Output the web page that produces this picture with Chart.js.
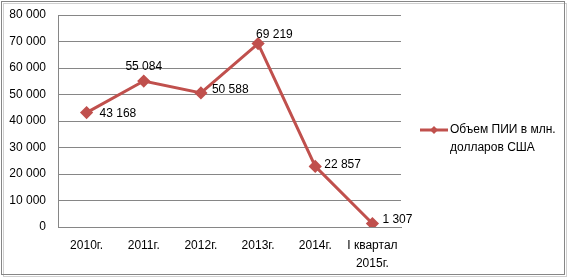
<!DOCTYPE html>
<html><head><meta charset="utf-8">
<script src="https://cdn.jsdelivr.net/npm/chart.js@4/dist/chart.umd.min.js"></script>
<style>html,body{margin:0;padding:0;background:#fff;}#wrap{width:571px;height:278px;position:relative;}</style>
</head><body><div id="wrap"><canvas id="c" width="571" height="278"></canvas></div>
<script>
const categories = [["2010г."], ["2011г."], ["2012г."], ["2013г."], ["2014г."], ["I квартал", "2015г."]];
const values = [43168, 55084, 50588, 69219, 22857, 1307];
const seriesName = ["Объем ПИИ в млн.", "долларов США"];
const yTicks = [0, 10000, 20000, 30000, 40000, 50000, 60000, 70000, 80000];
// label placement (dx, dy, align) relative to each point
const labelPlacement = [[13, 1, 'left'], [0, -14, 'center'], [11, -3, 'left'], [-2, -9, 'left'], [9, -2, 'left'], [10, -4, 'left']];

const fmt = v => String(v).replace(/\B(?=(\d{3})+(?!\d))/g, ' ');
const FONT = '"Liberation Sans", Arial, sans-serif';
const RED = '#C0504D';

const framePlugin = {
  id: 'frame',
  beforeDraw(chart) {
    const ctx = chart.ctx;
    ctx.save();
    ctx.fillStyle = '#fff';
    ctx.fillRect(0, 0, 571, 278);
    ctx.strokeStyle = '#d0d0d0';
    ctx.lineWidth = 1;
    ctx.strokeRect(3.5, 3.5, 563, 273);
    ctx.strokeStyle = '#868686';
    ctx.strokeRect(1.5, 1.5, 563, 273);
    ctx.restore();
  }
};

const labelPlugin = {
  id: 'pointLabels',
  afterDatasetsDraw(chart) {
    const ctx = chart.ctx;
    const meta = chart.getDatasetMeta(0);
    ctx.save();
    ctx.font = '12px ' + FONT;
    ctx.fillStyle = '#000';
    ctx.textBaseline = 'middle';
    meta.data.forEach((pt, i) => {
      const [dx, dy, al] = labelPlacement[i];
      ctx.textAlign = al;
      ctx.fillText(fmt(values[i]), pt.x + dx, pt.y + dy);
    });
    ctx.restore();
  }
};

const legendPlugin = {
  id: 'customLegend',
  afterDraw(chart) {
    const ctx = chart.ctx;
    ctx.save();
    const x0 = 420, y0 = 130;
    ctx.strokeStyle = RED;
    ctx.lineWidth = 3;
    ctx.beginPath();
    ctx.moveTo(x0, y0);
    ctx.lineTo(x0 + 28, y0);
    ctx.stroke();
    ctx.fillStyle = RED;
    ctx.beginPath();
    const cx = x0 + 14, r = 4;
    ctx.moveTo(cx, y0 - r); ctx.lineTo(cx + r, y0); ctx.lineTo(cx, y0 + r); ctx.lineTo(cx - r, y0); ctx.closePath();
    ctx.fill();
    ctx.fillStyle = '#000';
    ctx.font = '12px ' + FONT;
    ctx.textAlign = 'left';
    ctx.textBaseline = 'middle';
    seriesName.forEach((t, i) => ctx.fillText(t, 450, y0 + i * 18));
    ctx.restore();
  }
};

new Chart(document.getElementById('c'), {
  type: 'line',
  data: {
    labels: categories,
    datasets: [{
      label: seriesName.join(' '),
      data: values,
      borderColor: RED,
      backgroundColor: RED,
      borderWidth: 3,
      pointStyle: 'rectRot',
      pointRadius: 4.5,
      pointHoverRadius: 4.5,
      pointBackgroundColor: RED,
      pointBorderColor: RED,
      tension: 0
    }]
  },
  options: {
    responsive: false,
    animation: false,
    devicePixelRatio: 1,
    layout: { padding: { left: 0, right: 170, top: 15, bottom: 0 } },
    plugins: { legend: { display: false }, tooltip: { enabled: false } },
    scales: {
      x: {
        offset: true,
        grid: { display: false, drawTicks: false },
        border: { display: true, color: '#868686', width: 1 },
        ticks: { color: '#000', font: { family: FONT, size: 12, lineHeight: 1.55 }, padding: 9, maxRotation: 0, autoSkip: false },
        afterFit(s) { s.height = 51; s.paddingTop = 0; s.paddingBottom = 0; }
      },
      y: {
        min: 0, max: 80000,
        afterBuildTicks(s) { s.ticks = yTicks.map(v => ({ value: v })); },
        grid: { color: '#868686', drawTicks: false, lineWidth: 1 },
        border: { display: true, color: '#868686', width: 1 },
        ticks: { color: '#000', font: { family: FONT, size: 12 }, padding: 12, callback: v => fmt(v) },
        afterFit(s) { s.width = 58; s.paddingTop = 0; s.paddingBottom = 0; }
      }
    }
  },
  plugins: [framePlugin, labelPlugin, legendPlugin]
});
</script></body></html>
